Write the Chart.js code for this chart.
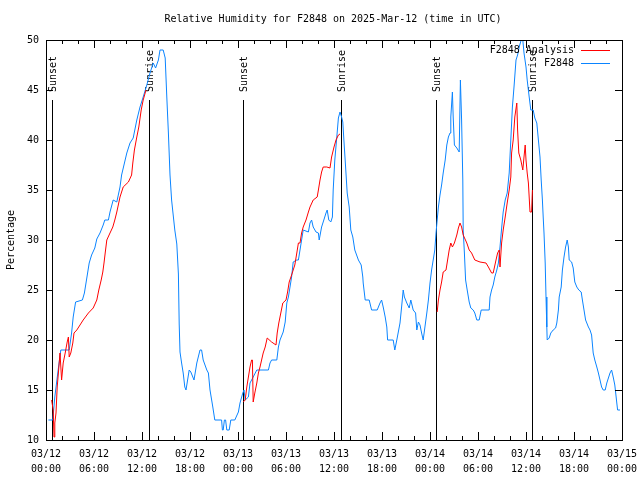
<!DOCTYPE html>
<html>
<head>
<meta charset="utf-8">
<script src="https://cdn.jsdelivr.net/npm/chart.js@4/dist/chart.umd.min.js"></script>
<style>html,body{margin:0;padding:0;background:#fff}</style>
</head>
<body>
<canvas id="chart" width="640" height="480"></canvas>
<script>
const chartTitle = "Relative Humidity for F2848 on 2025-Mar-12 (time in UTC)";
const yTitle = "Percentage";

// x is hours since 03/12 00:00 UTC
const xTickLabels = [
  ["03/12", "00:00"], ["03/12", "06:00"], ["03/12", "12:00"], ["03/12", "18:00"],
  ["03/13", "00:00"], ["03/13", "06:00"], ["03/13", "12:00"], ["03/13", "18:00"],
  ["03/14", "00:00"], ["03/14", "06:00"], ["03/14", "12:00"], ["03/14", "18:00"],
  ["03/15", "00:00"],
];

const eventTimes = [0.7, 12.9, 24.65, 36.9, 48.7, 60.8];
const eventNames = ["Sunset", "Sunrise", "Sunset", "Sunrise", "Sunset", "Sunrise"];

const stationTimes = [
  0.3, 0.85, 1.1, 1.55, 1.85, 2.9, 3.2, 3.4, 3.7, 4.55, 4.8, 5.1, 5.4, 5.7, 6.1, 6.35, 6.75,
  7.15, 7.35, 7.8, 8.0, 8.4, 8.85, 9.25, 9.45, 10.1, 10.5, 10.9, 11.35, 11.75, 12.15, 12.6,
  13.0, 13.4, 13.7, 14.05, 14.25, 14.65, 14.9, 15.1, 15.3, 15.5, 15.7, 15.9, 16.1, 16.35,
  16.55, 16.65, 16.75, 16.95, 17.15, 17.35, 17.5, 17.9, 18.1, 18.5, 18.85, 19.25, 19.45,
  19.65, 20.1, 20.3, 20.5, 20.85, 21.1, 21.95, 22.05, 22.15, 22.3, 22.45, 22.6, 22.9, 23.1,
  23.6, 24.05, 24.25, 24.6, 24.75, 24.9, 25.3, 25.5, 25.9, 26.35, 27.8, 28.0, 28.2, 28.85,
  29.05, 29.25, 29.65, 29.9, 30.1, 30.3, 30.5, 30.7, 30.9, 31.35, 31.55, 31.75, 31.95, 32.15,
  32.8, 33.0, 33.2, 33.4, 33.75, 34.05, 34.15, 34.45, 34.65, 35.0, 35.15, 35.35, 35.6, 35.8,
  35.9, 36.1, 36.35, 36.55, 36.75, 36.95, 37.1, 37.25, 37.45, 37.65, 37.9, 38.1, 38.35, 38.6,
  39.05, 39.4, 39.6, 39.65, 39.9, 40.4, 40.7, 41.4, 41.75, 41.95, 42.15, 42.4, 42.6, 42.7,
  43.4, 43.6, 43.85, 44.25, 44.45, 44.65, 44.8, 45.1, 45.4, 45.6, 45.9, 46.2, 46.35, 46.55,
  46.75, 46.95, 47.15, 47.4, 47.6, 47.8, 48.0, 48.2, 48.4, 48.6, 48.75, 48.9, 49.05, 49.25,
  49.45, 49.65, 49.9, 50.1, 50.3, 50.5, 50.6, 50.8, 50.9, 51.05, 51.35, 51.65, 51.8, 51.95,
  52.1, 52.15, 52.3, 52.45, 52.65, 52.9, 53.1, 53.4, 53.6, 53.85, 54.15, 54.4, 55.4, 55.5,
  55.7, 55.9, 56.1, 56.35, 56.55, 56.75, 56.9, 57.05, 57.15, 57.4, 57.65, 57.9, 58.1, 58.3,
  58.5, 58.75, 58.95, 59.15, 59.4, 59.6, 59.75, 60.0, 60.15, 60.4, 60.6, 60.9, 61.1, 61.35,
  61.55, 61.75, 61.9, 62.05, 62.15, 62.25, 62.4, 62.5, 62.6, 62.65, 62.9, 63.1, 63.4, 63.7,
  63.85, 64.05, 64.15, 64.4, 64.55, 64.75, 64.95, 65.15, 65.3, 65.4, 65.7, 65.9, 66.1, 66.35,
  66.6, 66.9, 67.05, 67.25, 67.45, 67.8, 68.0, 68.2, 68.4, 68.6, 68.85, 69.05, 69.25, 69.45,
  69.65, 69.9, 70.1, 70.3, 70.5, 70.7, 70.9, 71.1, 71.35, 71.45, 71.75,
];
const stationValues = [
  12, 12, 14.3, 17.2, 19, 19, 20.7, 22.3, 23.8, 24, 24.7, 26.2, 27.7, 28.5, 29.2, 30.1, 30.7,
  31.5, 32, 32, 32.8, 34, 33.8, 35.3, 36.5, 38.7, 39.7, 40.2, 42, 43.3, 44.3, 45.5,
  46.7, 47.7, 47.2, 48, 49, 49, 48.2, 44.3, 40.7, 36.5, 34, 32.5, 31, 29.6,
  26.6, 21.6, 18.8, 17.7, 16.7, 15.3, 15, 17, 16.8, 16, 17.7, 19, 19,
  18, 17, 16.7, 15, 13.3, 12, 12, 11, 11, 12, 12, 11, 11, 12,
  12, 12.8, 13.7, 14.7, 15, 14, 14.3, 15.7, 16.3, 17, 17, 17.7, 18, 18,
  19.3, 20, 20.8, 21.8, 23.7, 24.3, 25.3, 26.3, 27.8, 28, 28, 29, 30, 31,
  30.8, 31.7, 32, 31.3, 30.8, 30.7, 30, 31.3, 31.8, 32.7, 33, 32, 31.8, 32.3,
  35, 38, 40.3, 42.2, 42.8, 42.3, 41.8, 39.8, 37.3, 34.7, 33.3, 31, 30.3, 29,
  28, 27.5, 26.3, 25.7, 24, 24, 23, 23, 23.7, 24, 23.3, 22.3, 21.3, 20,
  20, 19, 20, 21.7, 23.3, 25, 24.3, 23.7, 23.2, 24, 23, 22.7, 21, 21.8,
  21.5, 20.7, 20, 21.5, 22.7, 24, 25.7, 27, 28, 29, 30.7, 32, 33.3, 34.5,
  35.5, 36.7, 38, 39.5, 40.3, 40.7, 42.3, 44.8, 42.3, 39.5, 39.2, 38.8, 46, 42,
  36, 31, 28.7, 26, 25, 23.8, 23.2, 23, 22.7, 22, 22, 23, 23, 24.3,
  25, 25.5, 26.3, 27, 27.7, 29.3, 30.7, 32, 32.8, 34, 34.7, 36.7, 40, 43.3,
  45.3, 48, 48.5, 49.3, 50, 50, 48.7, 47.3, 46, 44.3, 43, 43, 42.2, 41.7,
  40, 38.3, 36, 34, 32.3, 30.7, 27.7, 24.3, 21.3, 20, 20.2, 20.7, 21, 21.2,
  21.7, 23, 24.3, 25.3, 27, 28.3, 29.3, 30, 29.3, 28, 27.8, 27.2, 25.8, 25.3,
  25, 24.8, 24, 23, 22, 21.3, 21, 20.5, 18.7, 18, 17.3, 16.7, 16, 15.3,
  15, 15, 15.7, 16.2, 16.7, 17, 16.3, 15.5, 13.7, 13, 13,
];

// analysis runs, null marks a break between runs
const analysisTimes = [
  0.7, 0.9, 1.0, 1.1, 1.25, 1.4, 1.55, 1.75, 1.95, 2.15, 2.4, 2.65, 2.8, 2.9, 3.1, 3.35, 3.5,
  3.85, 4.25, 4.65, 5.3, 5.9, 6.35, 6.6, 6.9, 7.1, 7.25, 7.4, 7.6, 8.0, 8.35, 8.6, 8.85, 9.25,
  9.65, 10.3, 10.7, 10.85, 11.05, 11.35, 11.6, 11.9, 12.15, 12.5,
  18,
  24.65, 24.9, 25.1, 25.3, 25.5, 25.7, 25.8, 25.9, 26.1, 26.35, 26.55, 26.75, 26.95, 27.15,
  27.4, 27.65, 28.2, 28.75, 28.9, 29.1, 29.35, 29.6, 30.0, 30.2, 30.4, 30.7, 30.9, 31.1,
  31.35, 31.55, 31.75, 31.95, 32.15, 32.5, 32.8, 33.0, 33.4, 33.9, 34.05, 34.25, 34.45, 34.65,
  35.1, 35.5, 35.7, 36.0, 36.25, 36.55, 36.75,
  42,
  48.9, 49.05, 49.25, 49.45, 49.65, 50.0, 50.2, 50.4, 50.6, 50.8, 51.05, 51.35, 51.55, 51.75,
  51.95, 52.15, 52.6, 52.9, 53.2, 53.6, 54.25, 55.0, 55.3, 55.7, 55.9, 56.25, 56.45, 56.65,
  56.75, 56.95, 57.15, 57.4, 57.65, 57.9, 58.1, 58.2, 58.4, 58.6, 58.85, 58.95, 59.1, 59.35,
  59.6, 59.75, 59.9, 60.0, 60.15, 60.3, 60.5, 60.7, 60.8,
];
const analysisValues = [
  14, 13, 10.3, 11.7, 12.7, 15.3, 16.7, 18.7, 16, 17.7, 18.7, 19.8, 20.3, 18.3, 18.7, 19.7, 20.7,
  21, 21.5, 22, 22.7, 23.2, 24, 25, 26, 26.8, 27.7, 28.7, 30, 30.7, 31.3, 32, 32.8, 34.3,
  35.3, 35.8, 36.5, 37.7, 39, 40.3, 41.3, 43, 44, 45,
  null,
  13.8, 14, 15.3, 16.3, 17.3, 18, 18, 13.8, 14.7, 15.7, 16.7, 17.3, 18, 18.7,
  19.3, 20.2, 19.8, 19.5, 20.7, 21.7, 22.7, 23.7, 24, 24.8, 25.8, 26.5, 27, 27.5,
  28.7, 29.7, 29.7, 30.7, 31.3, 32, 32.8, 33.3, 34, 34.3, 35, 36, 36.8, 37.3,
  37.3, 37.2, 38.3, 39.3, 40, 40.5, 40.6,
  null,
  22.8, 24, 25, 25.8, 26.8, 27, 28, 29, 29.7, 29.3, 29.7, 30.5, 31.2, 31.7,
  31.3, 30.5, 29.7, 29, 28.7, 28, 27.8, 27.7, 27.3, 26.7, 26.7, 28, 28.7, 29,
  27.3, 29.7, 31, 32.3, 33.7, 35, 36.3, 38.7, 40, 42.3, 43.7, 41, 38.7, 38,
  37, 38.3, 39.5, 38, 36.7, 35.7, 32.8, 32.8, 35,
];

const MONO = "'DejaVu Sans Mono', monospace";
const RED = "#ff0000";
const BLUE = "#0a84ff";

const toPoints = (xs, ys) => xs.map((x, i) => ({ x, y: ys[i] }));

const gnuplotLook = {
  id: "gnuplotLook",
  beforeDatasetsDraw(chart) {
    const { ctx, scales: { x, y } } = chart;
    ctx.save();
    ctx.strokeStyle = "#000";
    ctx.fillStyle = "#000";
    ctx.lineWidth = 1;
    ctx.font = "10px " + MONO;
    const top = Math.round(y.getPixelForValue(44));
    eventTimes.forEach((t, i) => {
      const px = Math.round(x.getPixelForValue(t)) + 0.5;
      ctx.beginPath();
      ctx.moveTo(px, top);
      ctx.lineTo(px, y.bottom);
      ctx.stroke();
      ctx.save();
      ctx.translate(px + 1, top - 8);
      ctx.rotate(-Math.PI / 2);
      ctx.textAlign = "left";
      ctx.textBaseline = "middle";
      ctx.fillText(eventNames[i], 0, 0);
      ctx.restore();
    });
    ctx.restore();
  },
  afterDraw(chart) {
    const { ctx, chartArea: a, scales: { x, y } } = chart;
    ctx.save();
    ctx.strokeStyle = "#000";
    ctx.fillStyle = "#000";
    ctx.lineWidth = 1;
    ctx.strokeRect(a.left + 0.5, a.top + 0.5, a.right - a.left, a.bottom - a.top);

    ctx.beginPath();
    for (let h = 0; h <= 72; h += 2) {
      const px = Math.round(x.getPixelForValue(h)) + 0.5;
      const len = h % 6 === 0 ? 8 : 4;
      ctx.moveTo(px, a.bottom); ctx.lineTo(px, a.bottom - len);
      ctx.moveTo(px, a.top); ctx.lineTo(px, a.top + len);
    }
    for (let v = 10; v <= 50; v += 5) {
      const py = Math.round(y.getPixelForValue(v)) + 0.5;
      ctx.moveTo(a.left, py); ctx.lineTo(a.left + 7, py);
      ctx.moveTo(a.right, py); ctx.lineTo(a.right - 7, py);
    }
    ctx.stroke();

    ctx.font = "10px " + MONO;
    ctx.textBaseline = "middle";
    ctx.textAlign = "center";
    ctx.fillText(chartTitle, 333, 19);

    ctx.save();
    ctx.translate(11, 240);
    ctx.rotate(-Math.PI / 2);
    ctx.fillText(yTitle, 0, 0);
    ctx.restore();

    ctx.textAlign = "right";
    chart.data.datasets.forEach((ds, i) => {
      const ly = 50 + i * 13;
      ctx.fillStyle = "#000";
      ctx.fillText(ds.label, 574, ly);
      ctx.strokeStyle = ds.borderColor;
      ctx.beginPath();
      ctx.moveTo(581, ly + 0.5);
      ctx.lineTo(610, ly + 0.5);
      ctx.stroke();
    });
    ctx.restore();
  },
};

new Chart(document.getElementById("chart"), {
  type: "line",
  data: {
    datasets: [
      {
        label: "F2848 Analysis",
        data: toPoints(analysisTimes, analysisValues),
        borderColor: RED,
        borderWidth: 1,
        pointRadius: 0,
        tension: 0,
        spanGaps: false,
      },
      {
        label: "F2848",
        data: toPoints(stationTimes, stationValues),
        borderColor: BLUE,
        borderWidth: 1,
        pointRadius: 0,
        tension: 0,
      },
    ],
  },
  options: {
    responsive: false,
    animation: false,
    devicePixelRatio: 1,
    layout: { padding: { top: 40, right: 18, left: 0, bottom: 0 } },
    plugins: {
      legend: { display: false },
      title: { display: false },
      tooltip: { enabled: false },
    },
    scales: {
      x: {
        type: "linear",
        min: 0,
        max: 72,
        afterFit: (s) => { s.height = 40; s.paddingLeft = 0; s.paddingRight = 0; },
        afterBuildTicks: (s) => { s.ticks = xTickLabels.map((_, i) => ({ value: i * 6 })); },
        grid: { display: false, drawTicks: false },
        border: { display: false },
        ticks: {
          autoSkip: false,
          maxRotation: 0,
          padding: 7,
          color: "#000",
          font: { family: MONO, size: 10, lineHeight: 1.5 },
          callback: (v, i) => xTickLabels[i],
        },
      },
      y: {
        min: 10,
        max: 50,
        afterFit: (s) => { s.width = 46; s.paddingTop = 0; s.paddingBottom = 0; },
        grid: { display: false, drawTicks: false },
        border: { display: false },
        ticks: {
          stepSize: 5,
          padding: 7,
          color: "#000",
          font: { family: MONO, size: 10 },
        },
      },
    },
  },
  plugins: [gnuplotLook],
});
</script>
</body>
</html>
